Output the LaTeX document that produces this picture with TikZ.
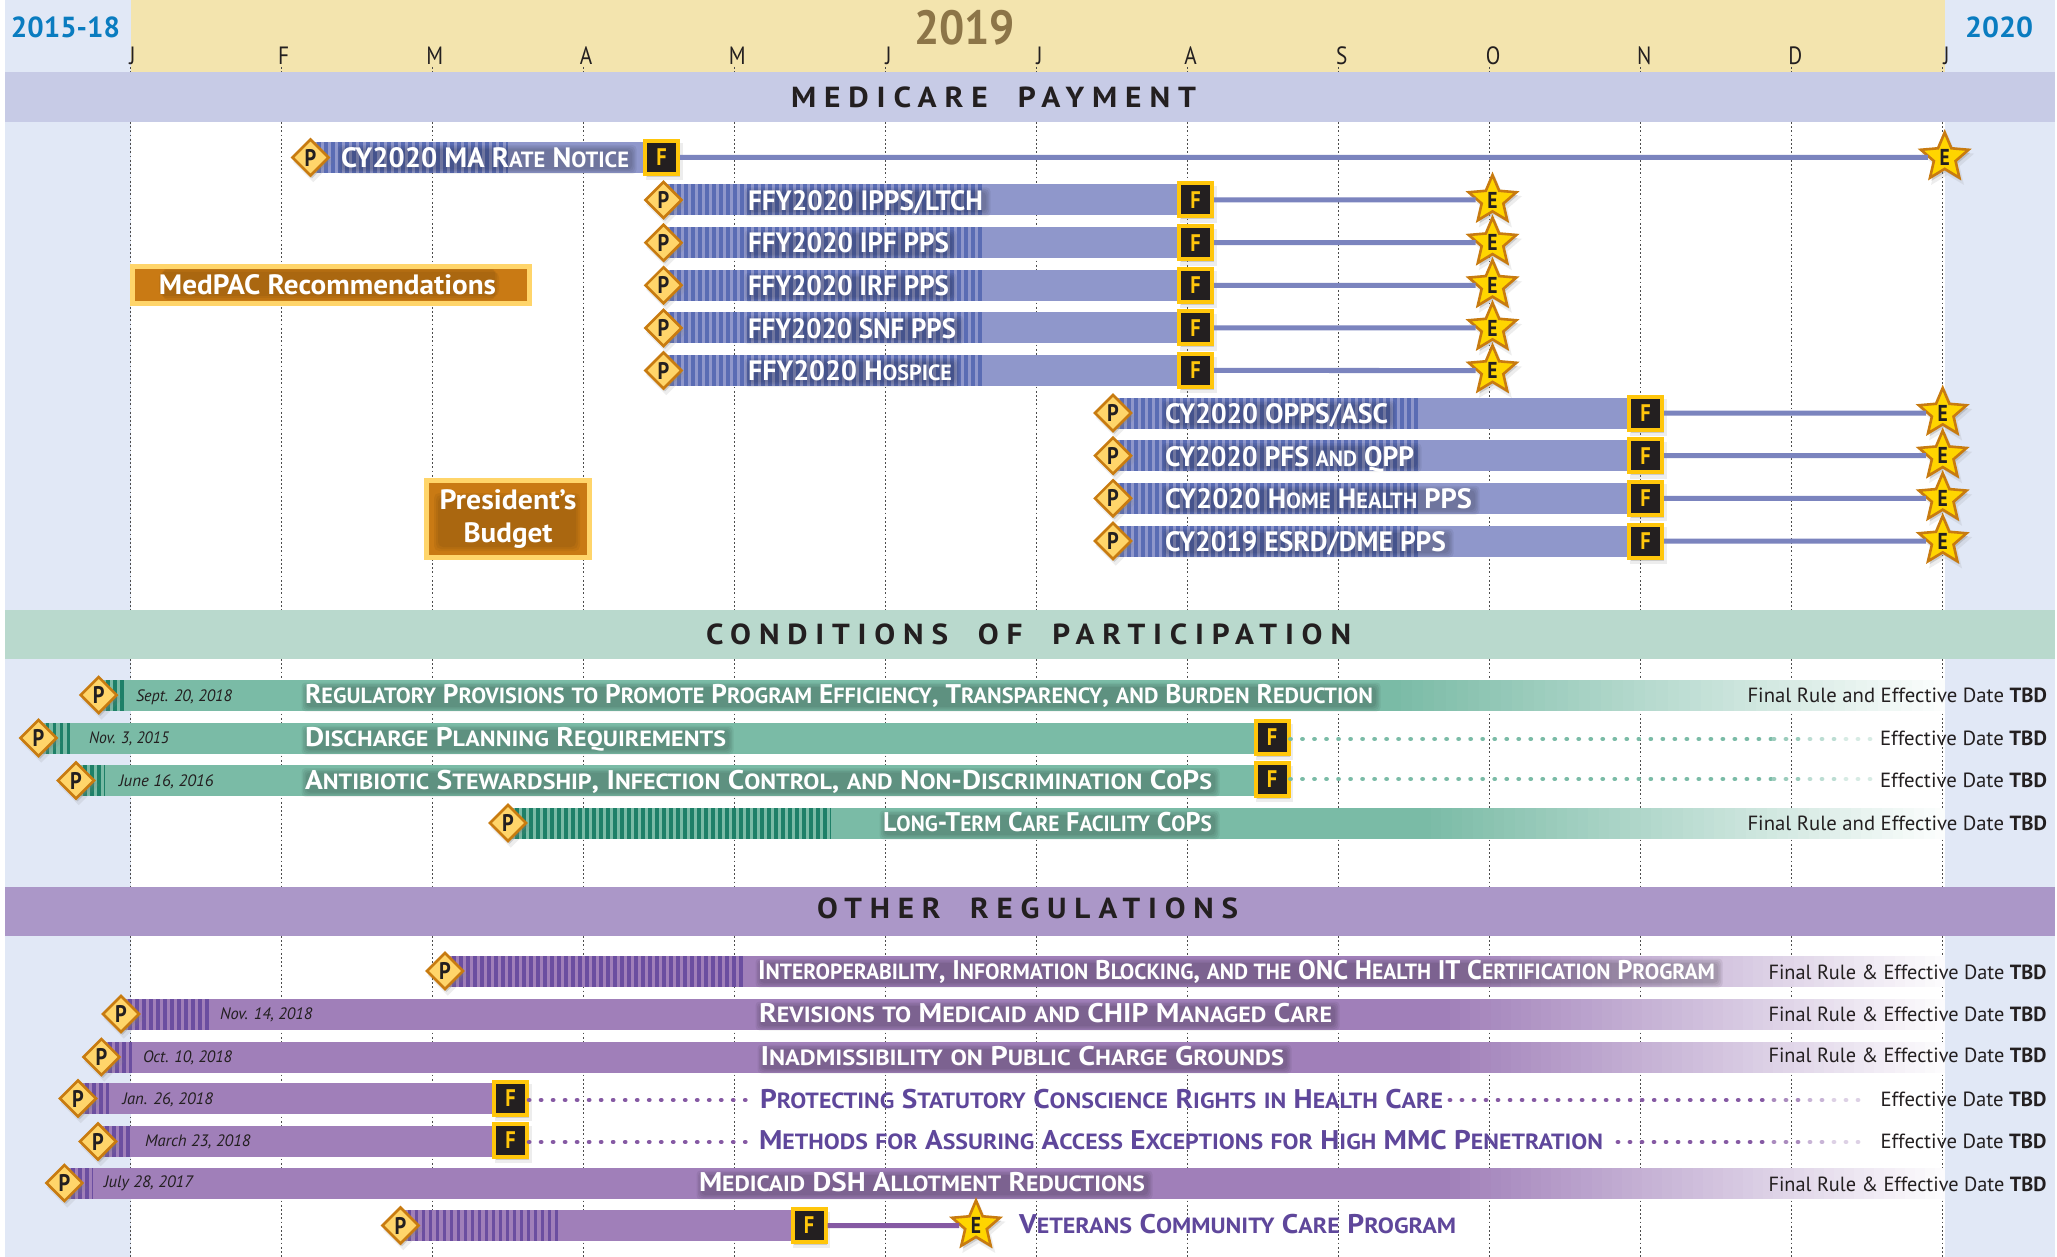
\documentclass[tikz,border=0pt]{standalone}
\usepackage{fontspec}
\usepackage{graphicx}
\setmainfont{PT Sans}
\newfontfamily\bandfam[LetterSpace=25]{PT Sans}
\newfontfamily\markfam[FakeStretch=0.85]{PT Sans}
\usetikzlibrary{shapes.geometric,shadows}
\definecolor{sidebg}{HTML}{E1E8F6}
\definecolor{headbg}{HTML}{F3E4AE}
\definecolor{bandmed}{HTML}{C7CBE6}
\definecolor{bandcop}{HTML}{B9D9CD}
\definecolor{bandoth}{HTML}{AB97C8}
\definecolor{barblue}{HTML}{8F97CB}
\definecolor{hatchblue}{HTML}{5A6CB4}
\definecolor{linkblue}{HTML}{7B84BE}
\definecolor{bargreen}{HTML}{7ABBA6}
\definecolor{hatchgreen}{HTML}{1E8068}
\definecolor{bargrape}{HTML}{A07FB9}
\definecolor{hatchgrape}{HTML}{6B4EA0}
\definecolor{linkgrape}{HTML}{8559A3}
\definecolor{titlegrape}{HTML}{5F479B}
\definecolor{inkblack}{HTML}{231F20}
\definecolor{goldY}{HTML}{FFC60B}
\definecolor{goldP}{HTML}{FFD56A}
\definecolor{goldE}{HTML}{FFD500}
\definecolor{rimO}{HTML}{C87B10}
\definecolor{boxO}{HTML}{C97A14}
\definecolor{yearbrown}{HTML}{8C7548}
\definecolor{yearblue}{HTML}{0A7CC0}
\newcommand\sm[1]{{\fontsize{22}{22}\selectfont\MakeUppercase{#1}}}
\newcommand\gapw{\hspace{.45em}}
% label with exact horizontal extent: [style]{name}{x0}{x1}{baseline}{text}
\newcommand\lab[6][]{\pgfmathsetmacro\labw{#4-#3}\node[lb,#1,anchor=base west] (#2) at (#3,#5) {\resizebox{\labw pt}{\height}{#6}};}
% plain bar: fill,hatch,x0,xhatch,x1,yc
\newcommand\tbar[6]{\fill[#1] (#3,#6-15.5) rectangle (#5,#6+15.5);
  \draw[#2,line width=31pt,dash pattern=on 3.5pt off 3.5pt] (#3,#6) -- (#4,#6);}
% bar fading out to the year's end
\newcommand\fbar[6]{\fill[#1] (#3,#6-15.5) rectangle (#5,#6+15.5);
  \foreach \k in {0,...,49}{\pgfmathsetmacro\fx{#5+(1945-#5)/50*\k}\pgfmathsetmacro\fp{100-\k*1.98}
    \fill[#1!\fp!white] (\fx,#6-15.5) rectangle (1945,#6+15.5);}
  \draw[#2,line width=31pt,dash pattern=on 3.5pt off 3.5pt] (#3,#6) -- (#4,#6);}
\newcommand\glow[3]{\foreach \g in {1,2.5,4,5.5}{\fill[black,opacity=.06,rounded corners=4pt] (#1-\g+2,#3-9-\g+2) rectangle (#2+\g+2,#3+9+\g+2);}}
\tikzset{
  x=1pt,y=-1pt,
  lb/.style={inner sep=0pt,outer sep=0pt,text=inkblack},
  titlew/.style={text=white,font=\fontsize{27}{27}\selectfont\bfseries},
  titlem/.style={text=white,font=\fontsize{28}{28}\selectfont\bfseries},
  titlep/.style={text=titlegrape,font=\fontsize{27}{27}\selectfont\bfseries},
  datetx/.style={font=\fontsize{16.5}{16.5}\selectfont\itshape},
  tbdtx/.style={font=\fontsize{20.5}{20.5}\selectfont},
  bandtx/.style={font=\bandfam\fontsize{29}{29}\selectfont\bfseries},
  yeartx/.style={text=yearblue,font=\fontsize{29}{29}\selectfont\bfseries},
  monthtx/.style={inner sep=0pt,anchor=base,text=inkblack,font=\markfam\fontsize{25}{25}\selectfont},
  msh/.style={drop shadow={shadow xshift=2.5pt,shadow yshift=-4pt,opacity=.14,shadow scale=1.12},
              drop shadow={shadow xshift=1.5pt,shadow yshift=-3pt,opacity=.3}},
  pm/.style={diamond,aspect=1,draw=rimO,line width=2.6pt,fill=goldP,inner sep=0pt,minimum width=37pt,minimum height=37pt,
     text=inkblack,font=\markfam\fontsize{24}{24}\selectfont\bfseries,msh},
  fm/.style={rectangle,draw=goldY,line width=4pt,fill=inkblack,inner sep=0pt,minimum width=33pt,minimum height=33pt,
     text=goldY,font=\markfam\fontsize{24}{24}\selectfont\bfseries,msh},
  em/.style={star,star points=5,star point ratio=2.2,draw=rimO,line width=2.6pt,fill=goldE,inner sep=0pt,minimum size=50pt,
     text=inkblack,font=\markfam\fontsize{23}{23}\selectfont\bfseries,msh},
  orbox/.style={rectangle,draw=goldP,line width=5pt,fill=boxO,inner sep=0pt,text=white,font=\fontsize{28}{33}\selectfont\bfseries},
  linkb/.style={draw=linkblue,line width=5pt},
  linkg/.style={draw=linkgrape,line width=5pt},
  dotg/.style={line width=4.8pt,line cap=round,dash pattern=on 0.01pt off 12pt},
  griddot/.style={draw=black!70,line width=1.2pt,dash pattern=on 1.8pt off 2.4pt},
}
\begin{document}
\begin{tikzpicture}
\useasboundingbox (0,0) rectangle (2057,1257);
% backgrounds
\fill[white] (0,0) rectangle (2057,1257);
\fill[sidebg] (5,0) rectangle (131,1257);
\fill[sidebg] (1945,0) rectangle (2055,1257);
\fill[headbg] (131,0) rectangle (1945,72);
\fill[bandmed] (5,72) rectangle (2055,122);
\fill[bandcop] (5,610) rectangle (2055,659);
\fill[bandoth] (5,887) rectangle (2055,936);
% month grid
\foreach \i/\m in {0/J,1/F,2/M,3/A,4/M,5/J,6/J,7/A,8/S,9/O,10/N,11/D,12/J}{
  \pgfmathsetmacro\gx{130.5+\i*151}
  \pgfmathsetmacro\mx{132.5+\i*151.17}
  \draw[griddot] (\gx,122) -- (\gx,610);
  \draw[griddot] (\gx,659) -- (\gx,887);
  \draw[griddot] (\gx,936) -- (\gx,1257);
  \draw[griddot] (\gx,67) -- (\gx,72);
  \node[monthtx] (m\i) at (\mx,64.5) {\m};
}
% header
\lab[yeartx]{y1518}{11}{120}{38}{2015-18}
\lab[yeartx]{y2020}{1965}{2033}{38}{2020}
\lab[yeartx,text=yearbrown,font=\fontsize{48}{48}\selectfont\bfseries]{y2019}{914}{1015}{44.5}{2019}
\lab[bandtx]{bmed}{791}{1196}{108}{MEDICARE \gapw PAYMENT}
\lab[bandtx]{bcop}{706}{1351}{644}{CONDITIONS \gapw OF \gapw PARTICIPATION}
\lab[bandtx]{both}{817}{1238}{918.5}{OTHER \gapw REGULATIONS}
% Medicare bars
\tbar{barblue}{hatchblue}{310}{508}{645}{157.5}
\tbar{barblue}{hatchblue}{663}{984}{1178}{200}
\tbar{barblue}{hatchblue}{663}{984}{1178}{242.7}
\tbar{barblue}{hatchblue}{663}{984}{1178}{285.3}
\tbar{barblue}{hatchblue}{663}{984}{1178}{328}
\tbar{barblue}{hatchblue}{663}{984}{1178}{370.5}
\tbar{barblue}{hatchblue}{1113}{1420}{1630}{413}
\tbar{barblue}{hatchblue}{1113}{1420}{1630}{455.7}
\tbar{barblue}{hatchblue}{1113}{1420}{1630}{498.3}
\tbar{barblue}{hatchblue}{1113}{1420}{1630}{541}
% CoP bars
\fbar{bargreen}{hatchgreen}{99}{127}{1390}{695}
\tbar{bargreen}{hatchgreen}{38.5}{73}{1256}{738}
\tbar{bargreen}{hatchgreen}{76}{104.5}{1256}{780.5}
\fbar{bargreen}{hatchgreen}{508}{830.6}{1420}{823}
% Other bars
\fbar{bargrape}{hatchgrape}{445}{746}{1440}{971}
\fbar{bargrape}{hatchgrape}{121}{209}{1440}{1014}
\fbar{bargrape}{hatchgrape}{101.4}{132}{1440}{1057}
\tbar{bargrape}{hatchgrape}{78}{109}{494}{1098.5}
\tbar{bargrape}{hatchgrape}{98}{129.5}{494}{1141.5}
\fbar{bargrape}{hatchgrape}{64.4}{93}{1440}{1183}
\tbar{bargrape}{hatchgrape}{400.5}{561}{793}{1225.5}
% text shadows
\glow{341}{629}{157.5}
\glow{748}{983}{200}\glow{748}{949}{242.7}\glow{748}{949}{285.3}\glow{748}{956}{328}\glow{748}{952}{370.5}
\glow{1165}{1388}{413}\glow{1165}{1414}{455.7}\glow{1165}{1472}{498.3}\glow{1165}{1446}{541}
\glow{305}{1373}{695}\glow{305}{726}{738}\glow{305}{1212}{780.5}\glow{883}{1212}{823}
\glow{759}{1715}{971}\glow{759}{1332}{1014}\glow{761}{1284}{1057}\glow{700}{1145}{1183}
% Medicare titles
\lab[titlem]{t1}{341}{629}{168}{CY2020 MA R\sm{ate} N\sm{otice}}
\lab[titlem]{t2}{748}{983}{210.5}{FFY2020 IPPS/LTCH}
\lab[titlem]{t3}{748}{949}{253}{FFY2020 IPF PPS}
\lab[titlem]{t4}{748}{949}{295.8}{FFY2020 IRF PPS}
\lab[titlem]{t5}{748}{956}{338.5}{FFY2020 SNF PPS}
\lab[titlem]{t6}{748}{952}{381}{FFY2020 H\sm{ospice}}
\lab[titlem]{t7}{1165}{1388}{423.5}{CY2020 OPPS/ASC}
\lab[titlem]{t8}{1165}{1414}{466}{CY2020 PFS \sm{and} QPP}
\lab[titlem]{t9}{1165}{1472}{508.8}{CY2020 H\sm{ome} H\sm{ealth} PPS}
\lab[titlem]{t10}{1165}{1446}{551.5}{CY2019 ESRD/DME PPS}
% CoP titles
\lab[titlew]{c1}{305}{1373}{703.5}{R\sm{egulatory} P\sm{rovisions} \sm{to} P\sm{romote} P\sm{rogram} E\sm{fficiency}, T\sm{ransparency}, \sm{and} B\sm{urden} R\sm{eduction}}
\lab[titlew]{c2}{305}{726}{746.5}{D\sm{ischarge} P\sm{lanning} R\sm{equirements}}
\lab[titlew]{c3}{305}{1212}{789}{A\sm{ntibiotic} S\sm{tewardship}, I\sm{nfection} C\sm{ontrol}, \sm{and} N\sm{on}-D\sm{iscrimination} C\sm{o}P\sm{s}}
\lab[titlew]{c4}{883}{1212}{831.5}{L\sm{ong}-T\sm{erm} C\sm{are} F\sm{acility} C\sm{o}P\sm{s}}
\lab[datetx]{cd1}{136}{232}{701}{Sept. 20, 2018}
\lab[datetx]{cd2}{89}{169}{743.5}{Nov. 3, 2015}
\lab[datetx]{cd3}{119}{213.5}{786}{June 16, 2016}
\lab[tbdtx]{cr1}{1747.5}{2047}{702.5}{Final Rule and Effective Date \textbf{TBD}}
\lab[tbdtx]{cr2}{1880}{2047}{745}{Effective Date \textbf{TBD}}
\lab[tbdtx]{cr3}{1880}{2047}{787}{Effective Date \textbf{TBD}}
\lab[tbdtx]{cr4}{1747.5}{2047}{830}{Final Rule and Effective Date \textbf{TBD}}
% Other titles
\lab[titlew]{o1}{758}{1715}{979}{I\sm{nteroperability}, I\sm{nformation} B\sm{locking}, \sm{and the} ONC H\sm{ealth} IT C\sm{ertification} P\sm{rogram}}
\lab[titlew]{o2}{759}{1332}{1022.5}{R\sm{evisions} \sm{to} M\sm{edicaid} \sm{and} CHIP M\sm{anaged} C\sm{are}}
\lab[titlew]{o3}{760.5}{1284}{1065.5}{I\sm{nadmissibility} \sm{on} P\sm{ublic} C\sm{harge} G\sm{rounds}}
\lab[titlep]{o4}{760}{1443}{1108}{P\sm{rotecting} S\sm{tatutory} C\sm{onscience} R\sm{ights} \sm{in} H\sm{ealth} C\sm{are}}
\lab[titlep]{o5}{759}{1603}{1149.5}{M\sm{ethods} \sm{for} A\sm{ssuring} A\sm{ccess} E\sm{xceptions} \sm{for} H\sm{igh} MMC P\sm{enetration}}
\lab[titlew]{o6}{699}{1145}{1191}{M\sm{edicaid} DSH A\sm{llotment} R\sm{eductions}}
\lab[titlep]{o7}{1019}{1456}{1233.5}{V\sm{eterans} C\sm{ommunity} C\sm{are} P\sm{rogram}}
\lab[datetx]{od2}{220}{312.5}{1019.5}{Nov. 14, 2018}
\lab[datetx]{od3}{143}{232}{1062.5}{Oct. 10, 2018}
\lab[datetx]{od4}{122.5}{213}{1104}{Jan. 26, 2018}
\lab[datetx]{od5}{145}{250.6}{1146.5}{March 23, 2018}
\lab[datetx]{od6}{104}{193}{1187}{July 28, 2017}
\lab[tbdtx]{or1}{1768.5}{2046.5}{979}{Final Rule \& Effective Date \textbf{TBD}}
\lab[tbdtx]{or2}{1768.5}{2046.5}{1021}{Final Rule \& Effective Date \textbf{TBD}}
\lab[tbdtx]{or3}{1768.5}{2046.5}{1062.5}{Final Rule \& Effective Date \textbf{TBD}}
\lab[tbdtx]{or4}{1880.5}{2046.5}{1106}{Effective Date \textbf{TBD}}
\lab[tbdtx]{or5}{1880.5}{2046.5}{1148}{Effective Date \textbf{TBD}}
\lab[tbdtx]{or6}{1768.5}{2046.5}{1191}{Final Rule \& Effective Date \textbf{TBD}}
% orange boxes
\node[orbox,minimum width=397pt,minimum height=37pt,
  path picture={\foreach \g in {0,2,4}{\fill[black,opacity=.05,rounded corners=5pt] ([xshift=-172pt+\g pt,yshift=-11pt-\g pt]path picture bounding box.center) rectangle ([xshift=168pt-\g pt,yshift=13pt+\g pt]path picture bounding box.center);}}]
  (medpac) at (331,285) {\hspace{-7pt}\resizebox{337pt}{\height}{MedPAC Recommendations}};
\node[orbox,minimum width=162.5pt,minimum height=77pt,align=center,
  path picture={\foreach \g in {0,2,4}{\fill[black,opacity=.05,rounded corners=5pt] ([xshift=-74pt+\g pt,yshift=-32pt+\g pt]path picture bounding box.center) rectangle ([xshift=72pt-\g pt,yshift=26pt-\g pt]path picture bounding box.center);}}]
  (budget) at (508,519) {\raisebox{-3pt}{\resizebox{137pt}{\height}{President’s}}\\\raisebox{-3pt}{\resizebox{89pt}{\height}{Budget}}};
% Medicare markers
\node[pm] (p1) at (310.5,157.5) {P};
\node[fm] (f1) at (661.5,157.5) {F};
\node[em] (e1) at (1944.7,157.5) {E};
\foreach \r/\y in {2/200,3/242.7,4/285.3,5/328,6/370.5}{
  \node[pm] (p\r) at (663.5,\y) {P};
  \node[fm] (f\r) at (1195.5,\y) {F};
  \node[em] (e\r) at (1492.5,\y) {E};
}
\foreach \r/\y in {7/413,8/455.7,9/498.3,10/541}{
  \node[pm] (p\r) at (1113,\y) {P};
  \node[fm] (f\r) at (1645.5,\y) {F};
  \node[em] (e\r) at (1942.7,\y) {E};
}
\foreach \r in {1,...,10}{\draw[linkb] (f\r) -- (e\r);}
% CoP markers
\node[pm] (cp1) at (98.7,695) {P};
\node[pm] (cp2) at (38.5,738) {P};
\node[pm] (cp3) at (76,780.5) {P};
\node[pm] (cp4) at (508,823) {P};
\node[fm] (cf2) at (1272,737.5) {F};
\node[fm] (cf3) at (1272,779.5) {F};
% CoP dotted leaders
\coordinate (ca) at (1774,739);\coordinate (cb) at (1810,739);\coordinate (cc) at (1846,739);\coordinate (cd) at (1871,739);
\draw[dotg,bargreen] (cf2.east |- ca) -- (ca);
\draw[dotg,bargreen!75!white] (ca) -- (cb);
\draw[dotg,bargreen!50!white] (cb) -- (cc);
\draw[dotg,bargreen!30!white] (cc) -- (cd);
\coordinate (ea) at (1774,779);\coordinate (eb) at (1810,779);\coordinate (ec) at (1846,779);\coordinate (ed) at (1871,779);
\draw[dotg,bargreen] (cf3.east |- ea) -- (ea);
\draw[dotg,bargreen!75!white] (ea) -- (eb);
\draw[dotg,bargreen!50!white] (eb) -- (ec);
\draw[dotg,bargreen!30!white] (ec) -- (ed);
% Other markers
\node[pm] (op1) at (445,971) {P};
\node[pm] (op2) at (121,1014) {P};
\node[pm] (op3) at (101.4,1057) {P};
\node[pm] (op4) at (78,1098.5) {P};
\node[pm] (op5) at (98,1141.5) {P};
\node[pm] (op6) at (64.4,1183) {P};
\node[pm] (op7) at (400.5,1225.5) {P};
\node[fm] (of4) at (510.6,1098) {F};
\node[fm] (of5) at (510.6,1140) {F};
\node[fm] (of7) at (809,1225.5) {F};
\node[em] (oe7) at (976,1225.5) {E};
\draw[linkg] (of7) -- (oe7);
% Other dotted leaders
\coordinate (ga) at (753,1100);
\draw[dotg,linkgrape] (of4.east |- ga) -- (ga);
\coordinate (gb) at (753,1142);
\draw[dotg,linkgrape] (of5.east |- gb) -- (gb);
\coordinate (h0) at (1450,1100);\coordinate (h1) at (1774,1100);\coordinate (h2) at (1810,1100);\coordinate (h3) at (1834,1100);\coordinate (h4) at (1864,1100);
\draw[dotg,linkgrape] (h0) -- (h1);
\draw[dotg,linkgrape!70!white] (h1) -- (h2);
\draw[dotg,linkgrape!45!white] (h2) -- (h3);
\draw[dotg,linkgrape!28!white] (h3) -- (h4);
\coordinate (k0) at (1618,1142);\coordinate (k1) at (1774,1142);\coordinate (k2) at (1810,1142);\coordinate (k3) at (1834,1142);\coordinate (k4) at (1864,1142);
\draw[dotg,linkgrape] (k0) -- (k1);
\draw[dotg,linkgrape!70!white] (k1) -- (k2);
\draw[dotg,linkgrape!45!white] (k2) -- (k3);
\draw[dotg,linkgrape!28!white] (k3) -- (k4);
\end{tikzpicture}
\end{document}
